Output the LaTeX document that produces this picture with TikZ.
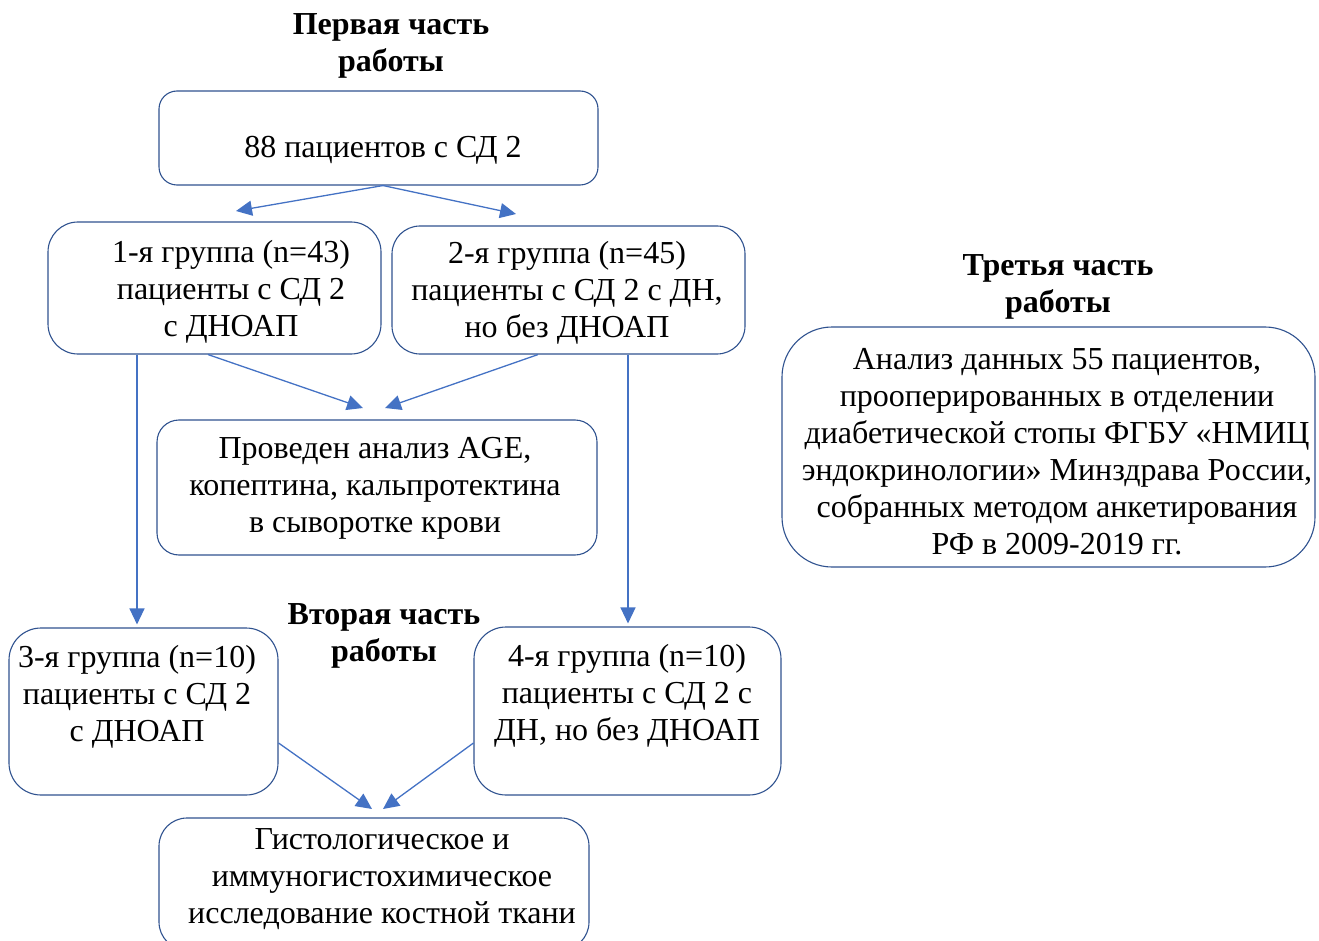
\documentclass[tikz,border=0pt]{standalone}
\usepackage{fontspec}
\setmainfont{Liberation Serif}
\usetikzlibrary{arrows.meta}
\definecolor{boxc}{HTML}{2F528F}
\definecolor{arrc}{HTML}{4472C4}
\begin{document}
\begin{tikzpicture}[x=1pt,y=-1pt,
  box/.style={draw=boxc, line width=1.1pt, rounded corners=#1, inner sep=0pt},
  box/.default=20pt,
  txt/.style={font=\fontsize{32}{37}\selectfont, align=center, inner sep=0pt},
  ttl/.style={font=\fontsize{32}{37}\selectfont\bfseries, align=center, inner sep=0pt},
  conn/.style={draw=arrc, line width=1.3pt, -{Triangle[width=15pt,length=16pt]}}]
\useasboundingbox (0,0) rectangle (1319,941);
% boxes
\node[box=18pt, minimum width=439pt, minimum height=94pt] (a) at (378.5,138) {};
\node[box=30pt, minimum width=333pt, minimum height=132pt] (b1) at (214.5,288) {};
\node[box=28pt, minimum width=353pt, minimum height=128pt] (b2) at (568.5,290) {};
\node[box=22pt, minimum width=440pt, minimum height=135pt] (c) at (377,487.5) {};
\node[box=32pt, minimum width=269pt, minimum height=167pt] (d3) at (143.5,711.5) {};
\node[box=32pt, minimum width=307pt, minimum height=168pt] (d4) at (627.5,711) {};
\node[box=28pt, minimum width=430pt, minimum height=132pt] (e) at (374,884) {};
\node[box=50pt, minimum width=533pt, minimum height=240pt] (f) at (1048.5,447) {};
% texts
\node[txt] (at) at (383,150.5) {88 пациентов с СД 2};
\node[txt] (b1t) at (231,292) {1-я группа (n=43)\\пациенты с СД 2\\с ДНОАП};
\node[txt] (b2t) at (567,292.5) {2-я группа (n=45)\\пациенты с СД 2 с ДН,\\но без ДНОАП};
\node[txt] (ct) at (375,488.5) {Проведен анализ AGE,\\копептина, кальпротектина\\в сыворотке крови};
\node[txt] (d3t) at (137,696.5) {3-я группа (n=10)\\пациенты с СД 2\\с ДНОАП};
\node[txt] (d4t) at (627,695.5) {4-я группа (n=10)\\пациенты с СД 2 с\\ДН, но без ДНОАП};
\node[txt] (et) at (382,879) {Гистологическое и\\иммуногистохимическое\\исследование костной ткани};
\node[txt] (ft) at (1057,451.5) {Анализ данных 55 пациентов,\\прооперированных в отделении\\диабетической стопы ФГБУ «НМИЦ\\эндокринологии» Минздрава России,\\собранных методом анкетирования\\РФ в 2009-2019 гг.};
% titles
\node[ttl] (t1) at (391,46) {Первая часть\\работы};
\node[ttl] (t2) at (384,635.5) {Вторая часть\\работы};
\node[ttl] (t3) at (1058,286.5) {Третья часть\\работы};
% free ends
\coordinate (p1) at (236,211);
\coordinate (p2) at (516,214);
\coordinate (p3) at (363,408);
\coordinate (p4) at (385,408);
\coordinate (p5) at (372,809);
\coordinate (p6) at (383,809);
\coordinate (v1) at (137,0);
\coordinate (v2) at (628,0);
% connectors
\draw[conn] ([xshift=4.5pt]a.south) -- (p1);
\draw[conn] ([xshift=4.5pt]a.south) -- (p2);
\draw[conn] ([xshift=-6.5pt]b1.south) -- (p3);
\draw[conn] ([xshift=-30.5pt]b2.south) -- (p4);
\draw[conn, shorten >=3pt] (b1.south -| v1) -- (d3.north -| v1);
\draw[conn, shorten >=3pt] (b2.south -| v2) -- (d4.north -| v2);
\draw[conn] ([yshift=-31.5pt]d3.east) -- (p5);
\draw[conn] ([yshift=-32pt]d4.west) -- (p6);
\end{tikzpicture}
\end{document}
